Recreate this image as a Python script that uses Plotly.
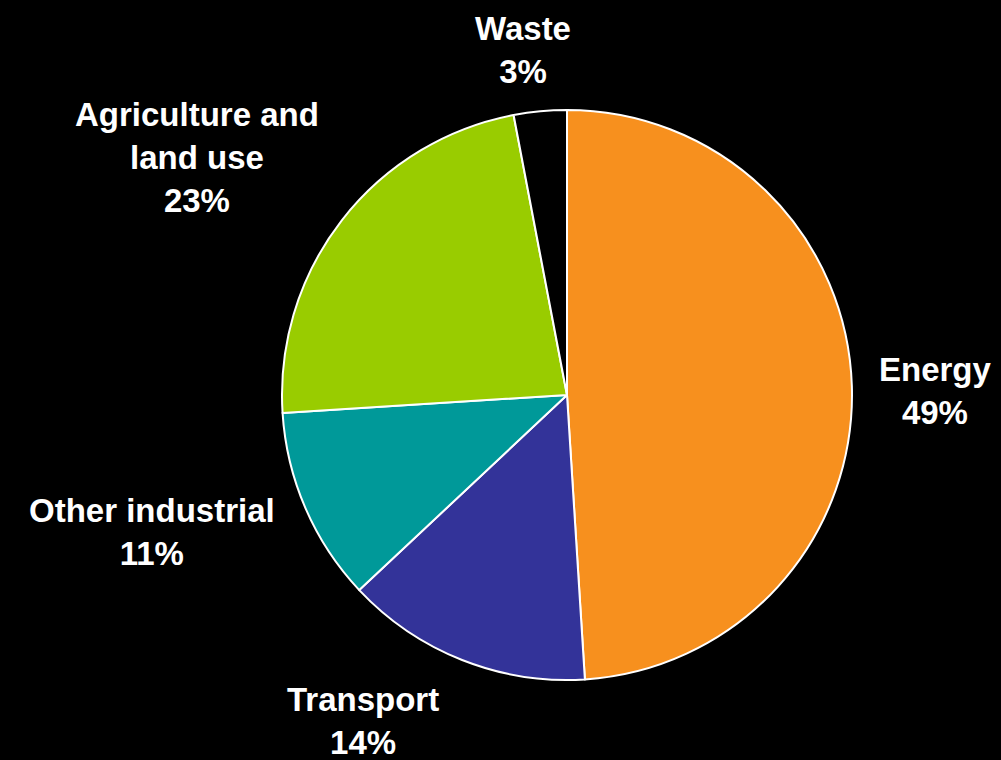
import plotly.graph_objects as go

labels = ["Energy", "Transport", "Other industrial", "Agriculture and<br>land use", "Waste"]
values = [49, 14, 11, 23, 3]
colors = ["#F7901E", "#333399", "#009999", "#99CC00", "#000000"]

# label block centres in pixels (layout, not data)
label_pos = [(935, 391), (363, 721), (152, 532), (197, 158), (523, 50)]

W, H = 1001, 760

fig = go.Figure(go.Pie(
    labels=labels,
    values=values,
    sort=False,
    direction="clockwise",
    rotation=0,
    marker=dict(colors=colors, line=dict(color="white", width=2)),
    textinfo="none",
    domain=dict(x=[(567 - 285) / W, (567 + 285) / W], y=[(365 - 285) / H, (365 + 285) / H]),
    showlegend=False,
    hoverinfo="skip",
))

for lab, val, (px, py) in zip(labels, values, label_pos):
    fig.add_annotation(
        x=px / W, y=1 - py / H, xref="paper", yref="paper",
        text=f"<b>{lab}<br>{val}%</b>",
        showarrow=False, xanchor="center", yanchor="middle", align="center",
        font=dict(family="Liberation Sans", size=33, color="white"),
    )

fig.update_layout(
    width=W, height=H,
    margin=dict(l=0, r=0, t=0, b=0),
    paper_bgcolor="black", plot_bgcolor="black",
    font=dict(family="Liberation Sans", color="white"),
)
fig.write_html("out.html")
